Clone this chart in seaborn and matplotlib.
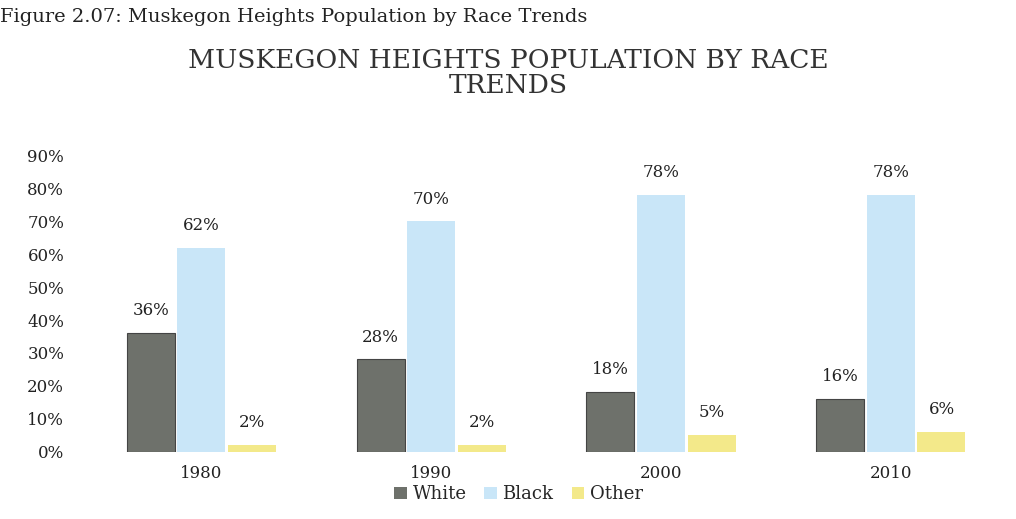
import pandas as pd
import matplotlib.pyplot as plt
import seaborn as sns

years = ['1980', '1990', '2000', '2010']
white = [0.36, 0.28, 0.18, 0.16]
black = [0.62, 0.70, 0.78, 0.78]
other = [0.02, 0.02, 0.05, 0.06]
races = ['White', 'Black', 'Other']
colors = ['#6e716b', '#c9e6f8', '#f3e98a']

df = pd.DataFrame({
    'year': years * 3,
    'race': ['White'] * 4 + ['Black'] * 4 + ['Other'] * 4,
    'share': white + black + other,
})

sns.set_theme(style='white')
plt.rcParams['font.family'] = ['DejaVu Serif']

fig = plt.figure(figsize=(10.16, 5.19), dpi=100)
ax = fig.add_axes([0.085, 0.13, 0.905, 0.57])

sns.barplot(data=df, x='year', y='share', hue='race', hue_order=races,
            palette=colors, saturation=1.0, width=0.66, gap=0.05, ax=ax,
            edgecolor='none', linewidth=0)
# darker outline only on the White bars, as in the scan
for bar in ax.containers[0]:
    bar.set_edgecolor('#444444')
    bar.set_linewidth(0.8)

# value labels
for cont in ax.containers:
    ax.bar_label(cont, labels=['%d%%' % round(v * 100) for v in cont.datavalues],
                 padding=10, fontsize=12, color='#222222', clip_on=False)

ax.set_ylim(0, 0.9)
ax.set_yticks([i / 10 for i in range(10)])
ax.set_yticklabels(['%d%%' % (i * 10) for i in range(10)], fontsize=12, color='#222222')
ax.tick_params(axis='x', labelsize=12, colors='#222222', pad=4)
ax.tick_params(axis='y', pad=10)
ax.set_xlabel('')
ax.set_ylabel('')
sns.despine(ax=ax, left=True, bottom=True)

ax.legend(loc='upper center', bbox_to_anchor=(0.47, -0.09), ncol=3, frameon=False,
          fontsize=13, handlelength=0.7, handleheight=0.7, handletextpad=0.3,
          columnspacing=1.0, borderaxespad=0)

fig.text(0.5, 0.86, 'MUSKEGON HEIGHTS POPULATION BY RACE\nTRENDS', ha='center',
         va='center', fontsize=19, color='#333333', linespacing=1.0)
fig.text(0.0, 0.985, 'Figure 2.07: Muskegon Heights Population by Race Trends',
         ha='left', va='top', fontsize=14, color='#222222')

fig.savefig('out.png', dpi=100)
